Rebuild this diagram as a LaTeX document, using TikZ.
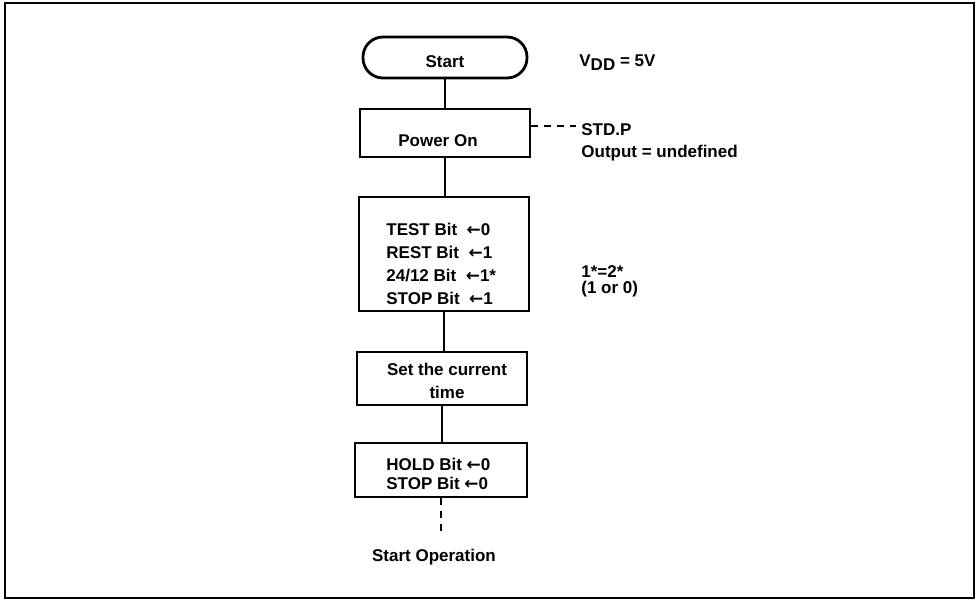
\documentclass[tikz,border=0pt]{standalone}
\usepackage{fontspec}
\setmainfont{Liberation Sans}
\newfontfamily\arrowfont{DejaVu Sans}
\newcommand{\lar}{{\arrowfont\bfseries\char"2190}}
\begin{document}
\begin{tikzpicture}[x=1pt,y=-1pt,line width=2.8pt,
  every node/.style={font=\fontsize{17}{23}\selectfont\bfseries},
  box/.style={draw,rectangle,inner sep=0pt},
  txt/.style={inner sep=0pt,align=center},
  ltxt/.style={inner sep=0pt,align=left,anchor=west},
  conn/.style={line width=2.8pt},
  dsh/.style={line width=2.8pt,dash pattern=on 7pt off 6pt}]
\useasboundingbox (0,0) rectangle (977,602);
\draw[line width=2.8pt] (5,3) rectangle (974,598);
% boxes
\node[box,rounded corners=20pt,minimum width=164pt,minimum height=41pt] (start) at (445,57.5) {};
\node[box,minimum width=170pt,minimum height=48pt] (power) at (445,133) {};
\node[box,minimum width=170pt,minimum height=114pt] (init) at (444,254) {};
\node[box,minimum width=170pt,minimum height=53pt] (settime) at (442,378.5) {};
\node[box,minimum width=172pt,minimum height=54pt] (hold) at (441,470) {};
% texts
\node[txt] (tstart) at (445,62) {Start};
\node[txt] (tpower) at (438,141) {Power On};
\node[ltxt] (tinit) at (385,264) {TEST Bit \ \lar0\\REST Bit \ \lar1\\24/12 Bit \ \lar1*\\STOP Bit \ \lar1};
\node[txt] (tset) at (447,381) {Set the current\\time};
\node[ltxt] (thold) at (385,473.5) {HOLD Bit \lar0\\[-4pt]STOP Bit \lar0};
\node[txt] (tend) at (434,557) {Start Operation};
\node[ltxt] (vdd) at (578,63) {V\raisebox{-4pt}{DD} = 5V};
\node[ltxt] (stdp) at (580,142) {STD.P\\[-1pt]Output = undefined};
\node[ltxt] (note) at (580,281) {1*=2*\\[-7pt](1 or 0)};
% connectors
\draw[conn] (start.south) -- (start.south |- power.north);
\draw[conn] (power.south) -- (power.south |- init.north);
\draw[conn] (init.south) -- (init.south |- settime.north);
\draw[conn] (settime.south) -- (settime.south |- hold.north);
\coordinate (endpt) at (441,535);
\draw[dsh] (hold.south) -- (endpt);
\coordinate (dstd) at (576,126);
\draw[dsh] (power.east |- dstd) -- (dstd);
\end{tikzpicture}
\end{document}
